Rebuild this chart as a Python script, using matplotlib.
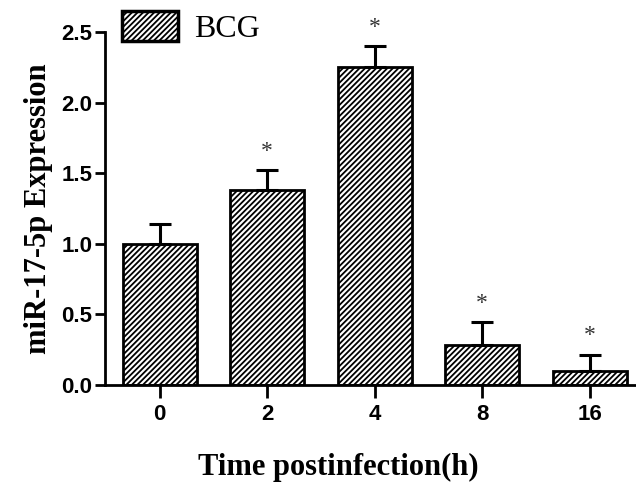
import matplotlib
matplotlib.use("Agg")
import matplotlib.pyplot as plt
import numpy as np

# data
times = ['0', '2', '4', '8', '16']
expr_mean = [1.00, 1.38, 2.25, 0.28, 0.10]
expr_err = [0.14, 0.14, 0.15, 0.165, 0.115]
signif = [False, True, True, True, True]
legend_label = 'BCG'

plt.rcParams['hatch.linewidth'] = 1.3

fig = plt.figure(figsize=(6.36, 4.86), dpi=100)
ax = fig.add_axes([0.165, 0.208, 0.835, 0.726])

x = np.arange(len(times))
bars = ax.bar(x, expr_mean, width=0.69, color='white', edgecolor='black',
              linewidth=2.0, hatch='//////', zorder=2, label=legend_label)
ax.errorbar(x, expr_mean, yerr=[np.zeros(len(x)), expr_err], fmt='none',
            ecolor='black', elinewidth=2.2, capsize=8, capthick=2.2, zorder=3)

# asterisks above the error bars
for xi, m, e, s in zip(x, expr_mean, expr_err, signif):
    if s:
        ax.text(xi, m + e + 0.06, '*', ha='center', va='bottom', fontsize=17,
                family='Liberation Serif', color='#333333')

ax.set_xlim(-0.51, 4.43)
ax.set_ylim(0, 2.5)
ax.set_yticks([0, 0.5, 1.0, 1.5, 2.0, 2.5])
ax.set_xticks(x)
ax.set_xticklabels(times)

for sp in ['top', 'right']:
    ax.spines[sp].set_visible(False)
for sp in ['left', 'bottom']:
    ax.spines[sp].set_linewidth(2.0)

ax.tick_params(axis='y', length=7, width=2.0, pad=2)
ax.tick_params(axis='x', length=9, width=2.0, pad=5)
for lab in ax.get_xticklabels() + ax.get_yticklabels():
    lab.set_family('Liberation Sans')
    lab.set_fontweight('bold')
    lab.set_fontsize(16)
ax.yaxis.set_major_formatter(matplotlib.ticker.FormatStrFormatter('%.1f'))

ax.set_ylabel('miR-17-5p Expression', family='Liberation Serif',
              fontweight='bold', fontsize=22, labelpad=6)
fig.text(338 / 636, 1 - 467 / 486, 'Time postinfection(h)', ha='center',
         va='center', family='Liberation Serif', fontweight='bold', fontsize=22)

leg = ax.legend(loc='upper left', bbox_to_anchor=(0.008, 1.097), frameon=False,
                prop={'family': 'Liberation Serif', 'size': 23},
                handlelength=1.75, handleheight=1.1, handletextpad=0.5,
                borderaxespad=0)
leg.get_patches()[0].set_linewidth(2.5)

fig.savefig('out.png', dpi=100)
